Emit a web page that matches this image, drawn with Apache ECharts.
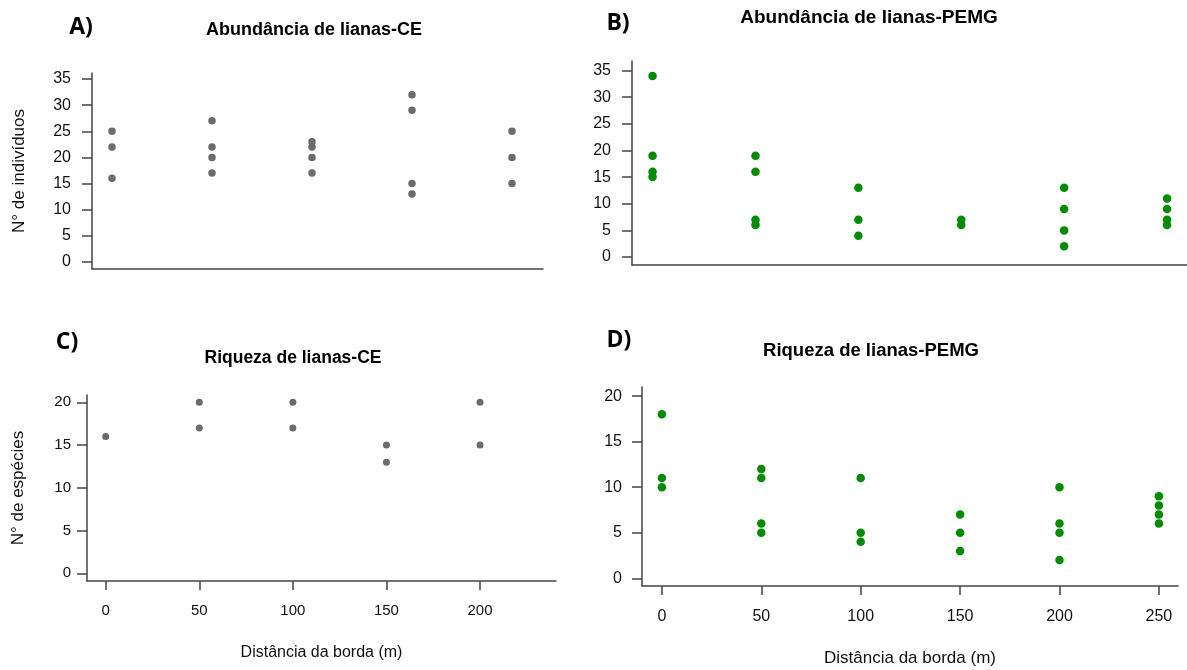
<!DOCTYPE html>
<html><head><meta charset="utf-8">
<script src="https://cdn.jsdelivr.net/npm/echarts@6/dist/echarts.min.js"></script>
<style>html,body{margin:0;padding:0;background:#fff}#c{width:1187px;height:670px}</style>
</head><body><div id="c"></div>
<script>
// ---- data ----
const distCE = [0, 50, 100, 150, 200];
const distPEMG = [0, 50, 100, 150, 200, 250];
const abundCE = [[25, 22, 16], [27, 22, 20, 17], [23, 22, 20, 17], [32, 29, 15, 13], [25, 20, 15]];
const abundPEMG = [[34, 19, 16, 15], [19, 16, 7, 6], [13, 7, 4], [7, 6], [13, 9, 5, 2], [11, 9, 7, 6]];
const riqCE = [[16], [20, 17], [20, 17], [15, 13], [20, 15]];
const riqPEMG = [[18, 11, 10], [12, 11, 6, 5], [11, 5, 4], [7, 5, 3], [10, 6, 5, 2], [9, 8, 7, 6]];
const ticksAbund = [0, 5, 10, 15, 20, 25, 30, 35];
const ticksRiq = [0, 5, 10, 15, 20];
const ticksDistCE = [0, 50, 100, 150, 200];
const ticksDistPEMG = [0, 50, 100, 150, 200, 250];
const panelLetters = ['A)', 'B)', 'C)', 'D)'];
const panelTitles = ['Abundância de lianas-CE', 'Abundância de lianas-PEMG', 'Riqueza de lianas-CE', 'Riqueza de lianas-PEMG'];
const yNameAbund = 'N° de indivíduos';
const yNameRiq = 'N° de espécies';
const xName = 'Distância da borda (m)';

function pairs(xs, groups) {
  const out = [];
  groups.forEach((g, i) => g.forEach(v => out.push([xs[i], v])));
  return out;
}

const GREY = '#6b6b6b', GREEN = '#008b00', AX = '#444', TXT = '#111';
const FONT = '"Liberation Sans", Arial, sans-serif';

const grids = [
  {left: 92, top: 73, width: 451, height: 196},
  {left: 632, top: 61, width: 555, height: 204},
  {left: 87, top: 395, width: 469, height: 186},
  {left: 642, top: 387, width: 536, height: 199}
];

function xAx(i, min, max, ticks, lblSize, lblMargin) {
  return {
    gridIndex: i, type: 'value', min: min, max: max,
    axisLine: {show: true, onZero: false, lineStyle: {color: AX, width: 1.5}},
    axisTick: ticks ? {show: true, length: 9, customValues: ticks, lineStyle: {color: AX, width: 1.5}} : {show: false},
    axisLabel: ticks ? {show: true, customValues: ticks, margin: lblMargin, fontSize: lblSize, color: TXT, fontFamily: FONT} : {show: false},
    splitLine: {show: false},
    name: ticks ? xName : '', nameLocation: 'middle', nameGap: ticks ? 64 : 0,
    nameTextStyle: {fontSize: lblSize + 1, color: TXT, fontFamily: FONT}
  };
}
function yAx(i, min, max, ticks, lblSize, lblMargin, name, nameGap) {
  return {
    gridIndex: i, type: 'value', min: min, max: max,
    axisLine: {show: true, onZero: false, lineStyle: {color: AX, width: 1.5}},
    axisTick: {show: true, length: 10, customValues: ticks, lineStyle: {color: AX, width: 1.5}},
    axisLabel: {show: true, customValues: ticks, margin: lblMargin, fontSize: lblSize, color: TXT, fontFamily: FONT},
    splitLine: {show: false},
    name: name || '', nameLocation: 'middle', nameGap: nameGap || 0, nameRotate: 90,
    nameTextStyle: {fontSize: 17, color: TXT, fontFamily: FONT}
  };
}

const option = {
  backgroundColor: '#fff',
  animation: false,
  grid: grids,
  xAxis: [
    xAx(0, -10, 215.5, null),
    xAx(1, -10, 259.7, null),
    xAx(2, -10, 240.6, ticksDistCE, 15, 22),
    xAx(3, -10, 259.6, ticksDistPEMG, 16, 23)
  ],
  yAxis: [
    yAx(0, -1.34, 36.14, ticksAbund, 16, 21, yNameAbund, 64),
    yAx(1, -1.5, 36.8, ticksAbund, 16, 21),
    yAx(2, -0.9, 20.86, ticksRiq, 15, 16, yNameRiq, 60),
    yAx(3, -0.85, 21.0, ticksRiq, 16, 20)
  ],
  series: [
    {type: 'scatter', xAxisIndex: 0, yAxisIndex: 0, symbolSize: 7.5, itemStyle: {color: GREY, opacity: 1}, data: pairs(distCE, abundCE)},
    {type: 'scatter', xAxisIndex: 1, yAxisIndex: 1, symbolSize: 8.5, itemStyle: {color: GREEN, opacity: 1}, data: pairs(distPEMG, abundPEMG)},
    {type: 'scatter', xAxisIndex: 2, yAxisIndex: 2, symbolSize: 7, itemStyle: {color: GREY, opacity: 1}, data: pairs(distCE, riqCE)},
    {type: 'scatter', xAxisIndex: 3, yAxisIndex: 3, symbolSize: 8.5, itemStyle: {color: GREEN, opacity: 1}, data: pairs(distPEMG, riqPEMG)}
  ],
  graphic: [
    {type: 'text', x: 81, y: 27, style: {text: panelLetters[0], font: 'bold 23px "Open Sans", sans-serif', fill: '#000', textAlign: 'center', textVerticalAlign: 'middle'}},
    {type: 'text', x: 618, y: 23, style: {text: panelLetters[1], font: 'bold 23px "Open Sans", sans-serif', fill: '#000', textAlign: 'center', textVerticalAlign: 'middle'}},
    {type: 'text', x: 67, y: 342, style: {text: panelLetters[2], font: 'bold 23px "Open Sans", sans-serif', fill: '#000', textAlign: 'center', textVerticalAlign: 'middle'}},
    {type: 'text', x: 619, y: 340, style: {text: panelLetters[3], font: 'bold 23px "Open Sans", sans-serif', fill: '#000', textAlign: 'center', textVerticalAlign: 'middle'}},
    {type: 'text', x: 314, y: 30, style: {text: panelTitles[0], font: 'bold 18px "Liberation Sans", Arial, sans-serif', fill: '#000', textAlign: 'center', textVerticalAlign: 'middle'}},
    {type: 'text', x: 869, y: 18, style: {text: panelTitles[1], font: 'bold 19px "Liberation Sans", Arial, sans-serif', fill: '#000', textAlign: 'center', textVerticalAlign: 'middle'}},
    {type: 'text', x: 293, y: 358, style: {text: panelTitles[2], font: 'bold 17.5px "Liberation Sans", Arial, sans-serif', fill: '#000', textAlign: 'center', textVerticalAlign: 'middle'}},
    {type: 'text', x: 871, y: 351, style: {text: panelTitles[3], font: 'bold 18.5px "Liberation Sans", Arial, sans-serif', fill: '#000', textAlign: 'center', textVerticalAlign: 'middle'}}
  ]
};

const chart = echarts.init(document.getElementById('c'), null, {renderer: 'canvas'});
chart.setOption(option);
</script>
</body></html>
